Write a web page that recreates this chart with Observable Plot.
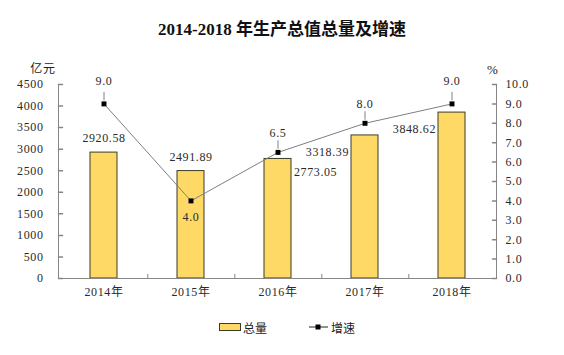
<!DOCTYPE html>
<html>
<head>
<meta charset="utf-8">
<script src="https://cdn.jsdelivr.net/npm/d3@7"></script>
<script src="https://cdn.jsdelivr.net/npm/@observablehq/plot@0.6"></script>
<style>
  html, body { margin: 0; padding: 0; background: #fff; }
  #wrap { position: relative; width: 564px; height: 355px; font-family: "Liberation Serif", "Noto Sans CJK SC", serif; color: #222; }
  #title { position: absolute; top: 19px; left: 0; width: 564px; text-align: center; font-size: 17px; font-weight: bold; line-height: 22px; color: #111; }
  #chart { position: absolute; top: 50px; left: 0; }
  #legend { position: absolute; top: 318px; left: 0; width: 564px; height: 18px; font-family: "Noto Sans CJK SC", sans-serif; font-size: 12px; color: #222; }
  #legend .item { position: absolute; top: 0; display: flex; align-items: center; height: 18px; }
</style>
</head>
<body>
<div id="wrap">
  <div id="title">2014-2018 年生产总值总量及增速</div>
  <div id="chart"></div>
  <div id="legend">
    <div class="item" style="left:218px;">
      <svg width="24" height="18"><rect x="1.5" y="5.5" width="21" height="7" fill="#FFD966" stroke="#3b3b26" stroke-width="1"/></svg>
      <span style="margin-left:1px;">总量</span>
    </div>
    <div class="item" style="left:308px;">
      <svg width="22" height="18"><line x1="1" y1="9" x2="20" y2="9" stroke="#222" stroke-width="1"/><rect x="7.5" y="6.5" width="5" height="5" fill="#000"/></svg>
      <span style="margin-left:1px;">增速</span>
    </div>
  </div>
</div>
<script>
const years = ["2014年", "2015年", "2016年", "2017年", "2018年"];
const totals = [2920.58, 2491.89, 2773.05, 3318.39, 3848.62];
const rates = [9.0, 4.0, 6.5, 8.0, 9.0];
const leftTicks = [0, 500, 1000, 1500, 2000, 2500, 3000, 3500, 4000, 4500];
const rightTicks = [0, 1, 2, 3, 4, 5, 6, 7, 8, 9, 10];
const RATIO = 450; // right axis 10.0% aligns with left axis 4500

const data = years.map((year, i) => ({year, total: totals[i], rate: rates[i], i}));
const ry = d => d.rate * RATIO;
const axisColor = "#868686";
const textColor = "#2a2a2a";
const step = (564 - 58 - 68) / 5;

const pick = idx => data.filter(d => idx.includes(d.i));
const rightVals = rightTicks.map(v => v * RATIO);

const chart = Plot.plot({
  width: 564,
  height: 255,
  marginLeft: 58,
  marginRight: 68,
  marginTop: 34,
  marginBottom: 27,
  style: {fontFamily: '"Liberation Serif", "Noto Sans CJK SC", serif', fontSize: "12px", color: textColor, background: "white", letterSpacing: "0.6px"},
  x: {domain: years, paddingInner: 0.69, paddingOuter: 0.345, align: 0.5},
  y: {domain: [0, 4500]},
  marks: [
    Plot.barY(data, {x: "year", y: "total", fill: "#FFD966", stroke: "#3b3b26", strokeWidth: 1}),
    Plot.frame({anchor: "left", stroke: axisColor}),
    Plot.frame({anchor: "right", stroke: axisColor}),
    Plot.ruleY([0], {stroke: axisColor}),
    Plot.ruleX(years.slice(0, 4), {x: d => d, dx: step / 2, y1: 0, y2: 95, stroke: axisColor}),
    // inward tick marks
    Plot.vector(leftTicks, {y: d => d, frameAnchor: "left", length: 4, rotate: 90, anchor: "start", shape: "spike", r: 0, stroke: axisColor}),
    Plot.vector(rightVals, {y: d => d, frameAnchor: "right", length: 4, rotate: -90, anchor: "start", shape: "spike", r: 0, stroke: axisColor}),
    Plot.axisY(leftTicks, {anchor: "left", tickSize: 0, tickPadding: 15, tickFormat: d3.format("d"), fill: textColor, label: null}),
    Plot.axisY(rightVals, {anchor: "right", tickSize: 0, tickPadding: 9, tickFormat: d => (d / RATIO).toFixed(1), fill: textColor, label: null}),
    Plot.axisX({tickSize: 0, tickPadding: 9, fill: textColor, label: null}),
    Plot.text(["亿元"], {frameAnchor: "top-left", textAnchor: "end", dx: -3, dy: -20, fontFamily: '"Noto Sans CJK SC", sans-serif', fontSize: 12, fill: "#222"}),
    Plot.text(["%"], {frameAnchor: "top-right", dx: 2, dy: -20, fontSize: 13, fill: "#222"}),
    // leader lines
    Plot.vector(pick([0, 2, 3, 4]), {x: "year", y: ry, length: 8, rotate: 0, anchor: "start", shape: "spike", r: 0, dy: -4, stroke: "#aaa", strokeWidth: 1}),
    Plot.line(data, {x: "year", y: ry, stroke: "#7f7f7f", strokeWidth: 1}),
    Plot.dot(data, {x: "year", y: ry, symbol: "square", r: 2.8, fill: "#000", stroke: null}),
    // rate labels
    Plot.text(pick([0, 4]), {x: "year", y: ry, text: d => d.rate.toFixed(1), dy: -23, fill: textColor}),
    Plot.text(pick([2, 3]), {x: "year", y: ry, text: d => d.rate.toFixed(1), dy: -19, fill: textColor}),
    Plot.text(pick([1]), {x: "year", y: ry, text: d => d.rate.toFixed(1), dy: 16, fill: textColor}),
    // total labels
    Plot.text(pick([0, 1]), {x: "year", y: "total", text: d => d.total.toFixed(2), dy: -14, fill: textColor}),
    Plot.text(pick([2]), {x: "year", y: "total", text: d => d.total.toFixed(2), dx: 16, dy: 13, textAnchor: "start", fill: textColor}),
    Plot.text(pick([3, 4]), {x: "year", y: "total", text: d => d.total.toFixed(2), dx: -16, dy: 17, textAnchor: "end", fill: textColor})
  ]
});
document.getElementById("chart").appendChild(chart);
</script>
</body>
</html>
